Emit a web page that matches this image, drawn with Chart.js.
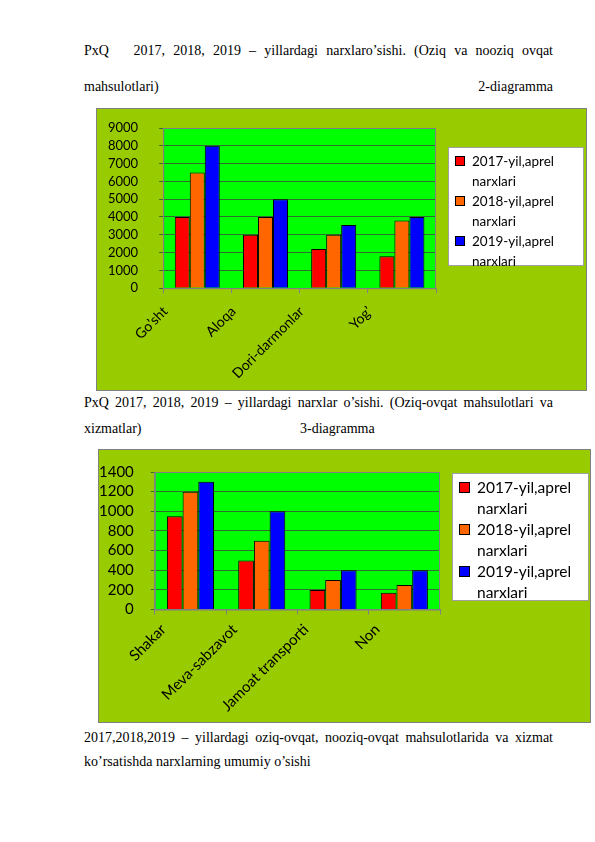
<!DOCTYPE html>
<html>
<head>
<meta charset="utf-8">
<script src="https://cdn.jsdelivr.net/npm/chart.js@4/dist/chart.umd.min.js"></script>
<style>
  body { margin: 0; width: 595px; height: 842px; position: relative; background: #fff; font-family: "Liberation Serif", serif; font-size: 14px; color: #000; }
  .line { position: absolute; left: 84px; width: 469px; white-space: nowrap; }
  .just { text-align: justify; text-align-last: justify; white-space: normal; }
  .split { display: flex; justify-content: space-between; }
  .box { position: absolute; background: #99cc00; border: 1px solid #808080; box-sizing: border-box; }
  .box canvas { position: absolute; left: 0; top: 0; }
  .legend { position: absolute; background: #fff; border: 1px solid #a0a0a0; font-family: Lato, sans-serif; box-sizing: border-box; }
  .legend .item { position: relative; }
  .legend .sw { position: absolute; border: 1px solid #000; box-sizing: border-box; }
</style>
</head>
<body>

<div class="line just" style="top:43px;">PxQ &nbsp; 2017, 2018, 2019 – yillardagi narxlaro’sishi. (Oziq va nooziq ovqat</div>
<div class="line split" style="top:79px;"><span>mahsulotlari)</span><span>2-diagramma</span></div>

<div class="box" id="box1" style="left:96px; top:108px; width:491px; height:283px;">
  <canvas id="chart1"></canvas>
  <div class="legend" id="legend1" style="left:351px; top:38px; width:136px; height:119px;"></div>
</div>

<div class="line just" style="top:395px;">PxQ 2017, 2018, 2019 – yillardagi narxlar o’sishi. (Oziq-ovqat mahsulotlari va</div>
<div class="line" style="top:421px;">xizmatlar)<span style="position:absolute; left:216px;">3-diagramma</span></div>

<div class="box" id="box2" style="left:98px; top:449px; width:493px; height:274px;">
  <canvas id="chart2"></canvas>
  <div class="legend" id="legend2" style="left:353px; top:23px; width:137px; height:128px;"></div>
</div>

<div class="line just" style="top:730px;">2017,2018,2019 – yillardagi oziq-ovqat, nooziq-ovqat mahsulotlarida va xizmat</div>
<div class="line" style="top:754px;">ko’rsatishda narxlarning umumiy o’sishi</div>

<script>
// DATA
const seriesNames = ['2017-yil,aprel narxlari', '2018-yil,aprel narxlari', '2019-yil,aprel narxlari'];
const seriesColors = ['#ff0000', '#ff6600', '#0000ff'];

const categories1 = ['Go’sht', 'Aloqa', 'Dori-darmonlar', 'Yog’'];
const prices2017a = [4000, 3000, 2200, 1800];
const prices2018a = [6500, 4000, 3000, 3800];
const prices2019a = [8000, 5000, 3550, 4000];

const categories2 = ['Shakar', 'Meva-sabzavot', 'Jamoat transporti', 'Non'];
const prices2017b = [950, 500, 200, 170];
const prices2018b = [1200, 700, 300, 250];
const prices2019b = [1300, 1000, 400, 400];

// plot area fill + frame
const plotBg = {
    id: 'plotBg',
    beforeDraw(chart) {
        const a = chart.chartArea;
        const ctx = chart.ctx;
        ctx.save();
        ctx.fillStyle = '#00ff00';
        ctx.fillRect(a.left, a.top, a.right - a.left, a.bottom - a.top);
        ctx.restore();
    },
    afterDatasetsDraw(chart) {
        const a = chart.chartArea;
        const ctx = chart.ctx;
        ctx.save();
        ctx.strokeStyle = '#808080';
        ctx.lineWidth = 1;
        ctx.strokeRect(a.left + 0.5, a.top + 0.5, a.right - a.left - 1, a.bottom - a.top);
        ctx.restore();
    }
};

// no auto overhang padding from the rotated labels
const noOverhang = scale => {
    scale.paddingLeft = 0;
    scale.paddingRight = 0;
    scale.paddingTop = 0;
    scale.paddingBottom = 0;
};

const makeChart = (id, labels, data, opts) => {
    const canvas = document.getElementById(id);
    const box = canvas.parentElement;
    canvas.width = box.clientWidth;
    canvas.height = box.clientHeight;
    canvas.style.width = box.clientWidth + 'px';
    canvas.style.height = box.clientHeight + 'px';
    return new Chart(canvas, {
        type: 'bar',
        data: {
            labels: labels,
            datasets: data.map((d, i) => ({
                label: seriesNames[i],
                data: d,
                backgroundColor: seriesColors[i],
                borderColor: '#000',
                borderWidth: 1,
                borderSkipped: 'bottom',
                categoryPercentage: 0.66,
                barPercentage: 1
            }))
        },
        options: {
            responsive: false,
            animation: false,
            devicePixelRatio: 1,
            layout: { padding: opts.padding, autoPadding: false },
            plugins: { legend: { display: false }, tooltip: { enabled: false } },
            scales: {
                x: {
                    afterFit: noOverhang,
                    grid: { offset: true, drawOnChartArea: false, color: '#808080', tickLength: 5 },
                    border: { color: '#808080' },
                    ticks: {
                        minRotation: 45, maxRotation: 45, autoSkip: false,
                        labelOffset: opts.labelOffset,
                        padding: opts.xPad,
                        color: '#000',
                        font: { family: 'Lato', size: opts.xFont }
                    }
                },
                y: {
                    afterFit: noOverhang,
                    min: 0, max: opts.max,
                    grid: { color: '#2f6f2f', tickLength: 4 },
                    border: { color: '#808080' },
                    ticks: {
                        stepSize: opts.step,
                        autoSkip: false,
                        padding: opts.yPad,
                        color: '#000',
                        font: { family: 'Lato', size: opts.fontSize },
                        callback: v => String(v)
                    }
                }
            }
        },
        plugins: [plotBg]
    });
};

const buildLegend = (id, fontSize, lineH, sw) => {
    const el = document.getElementById(id);
    el.style.fontSize = fontSize + 'px';
    el.style.lineHeight = lineH + 'px';
    el.style.padding = '3px 2px 0 ' + (sw + 13) + 'px';
    seriesNames.forEach((name, i) => {
        const item = document.createElement('div');
        item.className = 'item';
        const parts = name.split(' ');
        item.innerHTML = `<span class="sw" style="left:${-sw - 7}px; top:${(lineH - sw) / 2}px; width:${sw}px; height:${sw}px; background:${seriesColors[i]}"></span>${parts[0]}<br>${parts[1]}`;
        el.appendChild(item);
    });
};

makeChart('chart1', categories1, [prices2017a, prices2018a, prices2019a],
    { max: 9000, step: 1000, fontSize: 13, xFont: 14, xPad: 10, yPad: 21, labelOffset: -32,
      padding: { left: -10, right: 150, top: 19, bottom: -2 } });
makeChart('chart2', categories2, [prices2017b, prices2018b, prices2019b],
    { max: 1400, step: 200, fontSize: 15, xFont: 15, xPad: 6, yPad: 17, labelOffset: -27,
      padding: { left: -17, right: 150, top: 22, bottom: 1 } });

buildLegend('legend1', 13.5, 20, 10);
buildLegend('legend2', 15.5, 21, 11);
</script>
</body>
</html>
